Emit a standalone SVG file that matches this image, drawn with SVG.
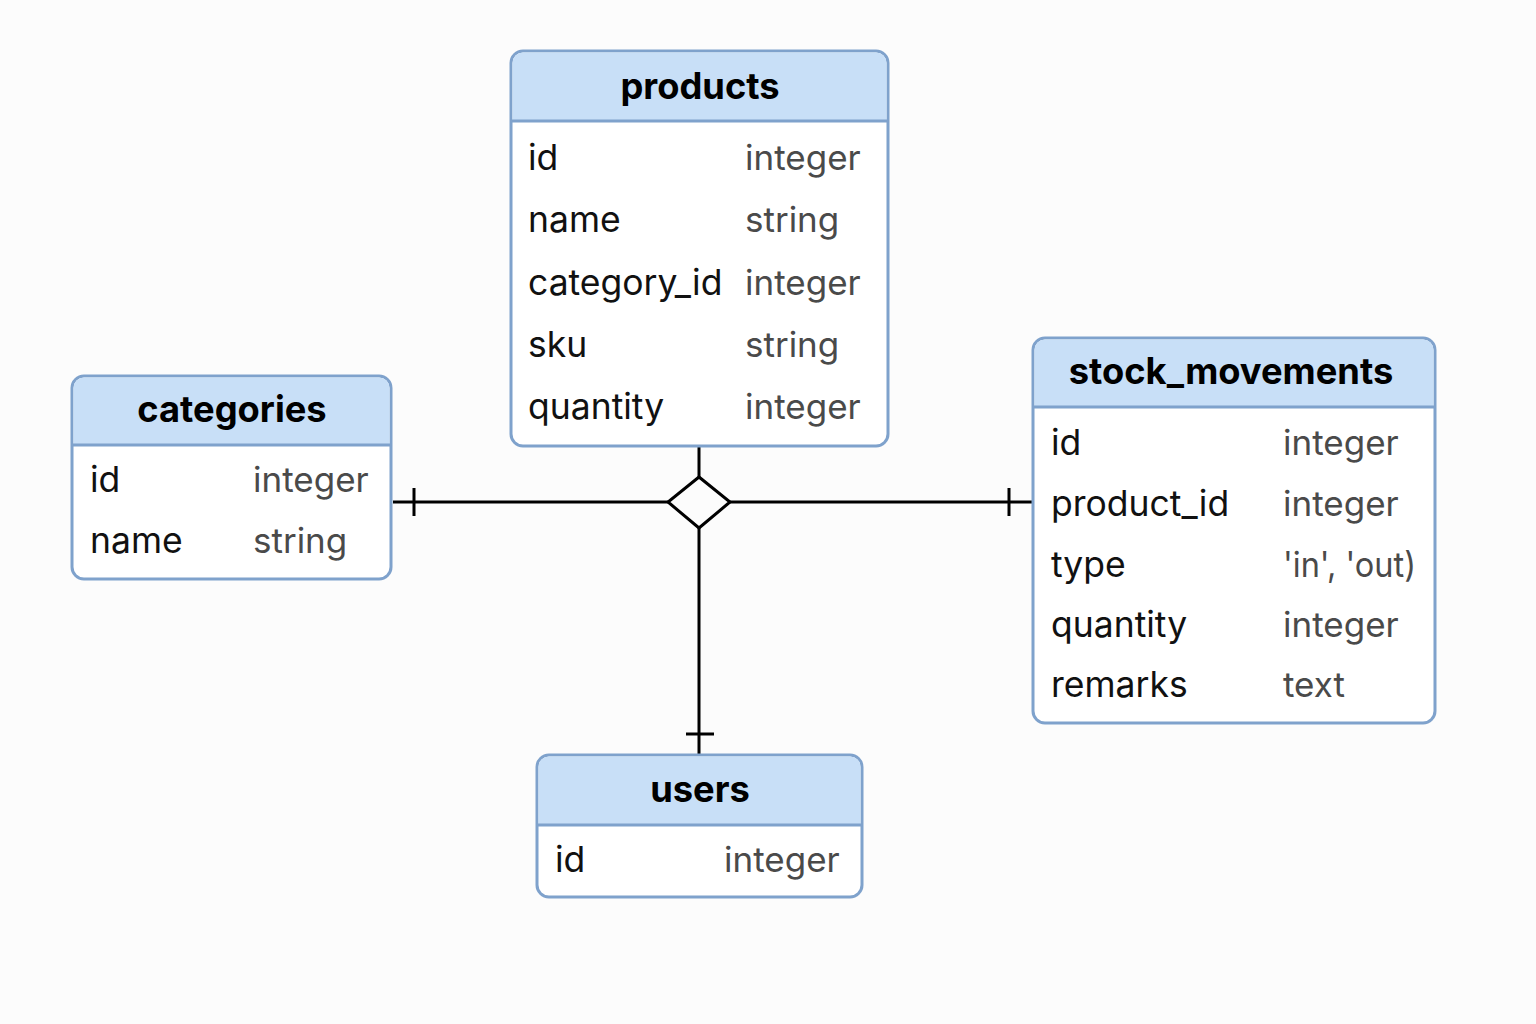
<svg xmlns="http://www.w3.org/2000/svg" width="1536" height="1024" viewBox="0 0 1536 1024">
<style>
.box{fill:#ffffff;stroke:#7fa2cc;stroke-width:3}
.hdr{fill:#c8dff7}
.sep{stroke:#7fa2cc;stroke-width:3}
.title{font-family:Inter,"Liberation Sans",sans-serif;font-weight:700;font-size:36.3px;fill:#000;text-anchor:middle}
.fld{font-family:Inter,"Liberation Sans",sans-serif;font-size:35.5px;fill:#111}
.typ{font-family:Inter,"Liberation Sans",sans-serif;font-size:35px;fill:#4a4a4a}
.ln{stroke:#000;stroke-width:3;fill:none}
</style>
<rect width="1536" height="1024" fill="#fcfcfc"/>
<g id="connectors">
<line class="ln" x1="393" y1="502" x2="668" y2="502"/>
<line class="ln" x1="730" y1="502" x2="1033" y2="502"/>
<line class="ln" x1="699" y1="446" x2="699" y2="477"/>
<line class="ln" x1="699" y1="528" x2="699" y2="755"/>
<polygon class="ln" points="699,477 730,502 699,528 668,502" fill="#ffffff"/>
<line class="ln" x1="414" y1="488" x2="414" y2="516"/>
<line class="ln" x1="1009" y1="488" x2="1009" y2="516"/>
<line class="ln" x1="686" y1="734" x2="714" y2="734"/>
</g>
<g id="products">
<rect class="box" x="511" y="51" width="377" height="395" rx="12"/>
<path class="hdr" d="M523,52.5 H876 A10.5,10.5 0 0 1 886.5,63 V121 H512.5 V63 A10.5,10.5 0 0 1 523,52.5 Z"/>
<line class="sep" x1="512" y1="121" x2="887" y2="121"/>
<text class="title" x="700" y="99">products</text>
<text class="fld" x="528" y="170">id</text><text class="typ" x="745" y="170">integer</text>
<text class="fld" x="528" y="232">name</text><text class="typ" x="745" y="232">string</text>
<text class="fld" x="528" y="295">category_id</text><text class="typ" x="745" y="295">integer</text>
<text class="fld" x="528" y="357">sku</text><text class="typ" x="745" y="357">string</text>
<text class="fld" x="528" y="419">quantity</text><text class="typ" x="745" y="419">integer</text>
</g>
<g id="categories">
<rect class="box" x="72" y="376" width="319" height="203" rx="12"/>
<path class="hdr" d="M84,377.5 H379 A10.5,10.5 0 0 1 389.5,388 V445 H73.5 V388 A10.5,10.5 0 0 1 84,377.5 Z"/>
<line class="sep" x1="73" y1="445" x2="390" y2="445"/>
<text class="title" x="232" y="422">categories</text>
<text class="fld" x="90" y="492">id</text><text class="typ" x="253" y="492">integer</text>
<text class="fld" x="90" y="553">name</text><text class="typ" x="253" y="553">string</text>
</g>
<g id="stock_movements">
<rect class="box" x="1033" y="338" width="402" height="385" rx="12"/>
<path class="hdr" d="M1045,339.5 H1423 A10.5,10.5 0 0 1 1433.5,350 V407 H1034.5 V350 A10.5,10.5 0 0 1 1045,339.5 Z"/>
<line class="sep" x1="1034" y1="407" x2="1434" y2="407"/>
<text class="title" x="1231" y="384">stock_movements</text>
<text class="fld" x="1051" y="455">id</text><text class="typ" x="1283" y="455">integer</text>
<text class="fld" x="1051" y="516">product_id</text><text class="typ" x="1283" y="516">integer</text>
<text class="fld" x="1051" y="577">type</text><text class="typ" x="1283" y="577" textLength="133" lengthAdjust="spacingAndGlyphs">'in', 'out)</text>
<text class="fld" x="1051" y="637">quantity</text><text class="typ" x="1283" y="637">integer</text>
<text class="fld" x="1051" y="697">remarks</text><text class="typ" x="1283" y="697">text</text>
</g>
<g id="users">
<rect class="box" x="537" y="755" width="325" height="142" rx="12"/>
<path class="hdr" d="M549,756.5 H850 A10.5,10.5 0 0 1 860.5,767 V825 H538.5 V767 A10.5,10.5 0 0 1 549,756.5 Z"/>
<line class="sep" x1="538" y1="825" x2="861" y2="825"/>
<text class="title" x="700" y="802">users</text>
<text class="fld" x="555" y="872">id</text><text class="typ" x="724" y="872">integer</text>
</g>
</svg>
